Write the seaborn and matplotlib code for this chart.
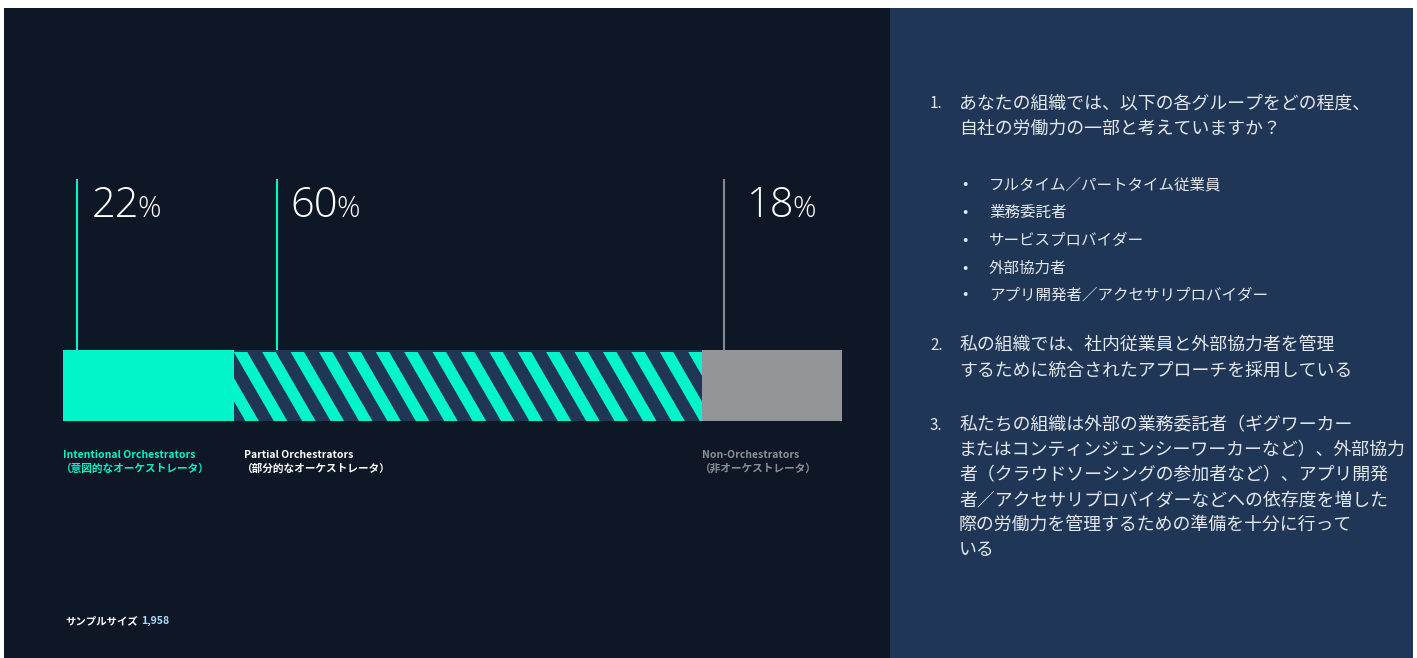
import numpy as np
import pandas as pd
import matplotlib
matplotlib.use("Agg")
import matplotlib.pyplot as plt
import matplotlib.transforms as mtransforms
from matplotlib.patches import Rectangle, Polygon
import seaborn as sns

# ---------------- data ----------------
segments = ["Intentional Orchestrators", "Partial Orchestrators", "Non-Orchestrators"]
segments_ja = ["（意図的なオーケストレータ）", "（部分的なオーケストレータ）", "（非オーケストレータ）"]
shares = [22, 60, 18]
sample_label = "サンプルサイズ"
sample_size = "1,958"

q1_lines = ["あなたの組織では、以下の各グループをどの程度、", "自社の労働力の一部と考えていますか？"]
q1_bullets = ["フルタイム／パートタイム従業員", "業務委託者", "サービスプロバイダー", "外部協力者",
              "アプリ開発者／アクセサリプロバイダー"]
q2_lines = ["私の組織では、社内従業員と外部協力者を管理", "するために統合されたアプローチを採用している"]
q3_lines = ["私たちの組織は外部の業務委託者（ギグワーカー",
            "またはコンティンジェンシーワーカーなど）、外部協力",
            "者（クラウドソーシングの参加者など）、アプリ開発",
            "者／アクセサリプロバイダーなどへの依存度を増した",
            "際の労働力を管理するための準備を十分に行って",
            "いる"]

# ---------------- style ----------------
DARK = "#0d1725"
NAVY = "#1f3656"
TEAL = "#00f5c8"
GRAY = "#939598"
GRAY_LINE = "#85898e"
LABEL_GRAY = "#8c9096"
TEXT_LIGHT = "#e4e8ee"
SAMPLE_BLUE = "#a9dcf7"

sns.set_theme(style="dark")
JP = ["Noto Sans CJK JP", "DejaVu Sans"]
plt.rcParams["font.family"] = JP

W, H, DPI = 1417, 658, 100
fig = plt.figure(figsize=(W / DPI, H / DPI), dpi=DPI, facecolor="white")


def fx(x):
    return x / W


def fy(y):
    return 1 - y / H


# background panels
fig.add_artist(Rectangle((fx(4), 0), fx(890) - fx(4), fy(8), transform=fig.transFigure,
                         facecolor=DARK, edgecolor="none", zorder=0))
fig.add_artist(Rectangle((fx(890), 0), fx(1413) - fx(890), fy(8), transform=fig.transFigure,
                         facecolor=NAVY, edgecolor="none", zorder=0))

# ---------------- bar ----------------
BAR_L, BAR_R, BAR_T, BAR_B = 63, 842, 350, 421
ax = fig.add_axes([fx(BAR_L), fy(BAR_B), (BAR_R - BAR_L) / W, (BAR_B - BAR_T) / H])

df = pd.DataFrame({"segment": segments, "share": shares})
df["end"] = df["share"].cumsum()
df["start"] = df["end"] - df["share"]
df["row"] = "all"
palette = {segments[0]: TEAL, segments[1]: NAVY, segments[2]: GRAY}

sns.barplot(data=df, x="end", y="row", hue="segment", hue_order=segments[::-1],
            palette=palette, dodge=False, width=1.0, saturation=1, legend=False,
            errorbar=None, linewidth=0, ax=ax)
ax.set_xlim(0, 100)
ax.set_ylim(0.5, -0.5)
ax.axis("off")

patch_by_end = {}
for p in ax.patches:
    patch_by_end[round(p.get_width(), 6)] = p
first_patch = patch_by_end[round(float(df["end"][0]), 6)]
partial_patch = patch_by_end[round(float(df["end"][1]), 6)]
first_patch.set_zorder(3)

# diagonal stripes on the partial segment
sx = (BAR_R - BAR_L) / 100.0   # px per x unit
sy = float(BAR_B - BAR_T)      # px per y unit
period, band, slant, pad, phase = 28.4, 13.5, 40.0, 2.0, 11.0
p_start, p_end = float(df["start"][1]), float(df["end"][1])
x_px = phase - slant - 2 * period
while x_px < (p_end - p_start) * sx + period:
    x0 = p_start + x_px / sx
    ytop = -0.5 + pad / sy
    poly = Polygon([(x0, ytop), (x0 + band / sx, ytop), (x0 + (band + slant) / sx, 0.5),
                    (x0 + slant / sx, 0.5)], closed=True, facecolor=TEAL, edgecolor="none",
                   zorder=2)
    ax.add_patch(poly)
    poly.set_clip_path(partial_patch)
    x_px += period

# leader lines and big percentages
blend = mtransforms.blended_transform_factory(ax.transData, ax.transAxes)
LINE_TOP = 179
line_offsets_px = [14, 43, 22]
text_gaps_px = [15, 13, 23]
line_colors = [TEAL, TEAL, GRAY_LINE]
top_frac = 1 + (BAR_T - LINE_TOP) / sy
fig.canvas.draw()
renderer = fig.canvas.get_renderer()
BIG = ["Open Sans", "DejaVu Sans"]
for i in range(len(shares)):
    lx = float(df["start"][i]) + line_offsets_px[i] / sx
    ax.plot([lx, lx], [1, top_frac], transform=blend, color=line_colors[i], lw=1.5,
            clip_on=False, solid_capstyle="butt", zorder=4)
    lx_px = BAR_L + lx * sx
    t = fig.text(fx(lx_px + text_gaps_px[i]), fy(217), f"{shares[i]}", color="white",
                 fontsize=30, family=BIG, fontweight="light", va="baseline", ha="left")
    bb = t.get_window_extent(renderer=renderer)
    fig.text(bb.x1 / W - fx(2), fy(217), "%", color="white", fontsize=21,
             family=BIG, fontweight="light", va="baseline", ha="left")

# category labels
label_x_px = [63, 244, 702]
label_colors = [TEAL, "white", LABEL_GRAY]
for i in range(len(segments)):
    fig.text(fx(label_x_px[i]), fy(455), segments[i], color=label_colors[i], fontsize=7.5,
             fontweight="bold", va="center", ha="left", family=JP)
    fig.text(fx(label_x_px[i] - 2), fy(469), segments_ja[i], color=label_colors[i], fontsize=7.7,
             fontweight="bold", va="center", ha="left", family=JP)

# sample size
t = fig.text(fx(65), fy(621), sample_label, color="white", fontsize=7.5, fontweight="bold",
             va="center", ha="left", family=JP)
bb = t.get_window_extent(renderer=renderer)
fig.text(bb.x1 / W + fx(3), fy(621), sample_size, color=SAMPLE_BLUE, fontsize=7.6,
         fontweight="bold", va="center", ha="left", family=JP)

# ---------------- right panel ----------------
NUM_X, TXT_X, BUL_X, BUL_TXT_X = 930, 959, 962, 989
QFS, BFS = 12.9, 11.2


def qlines(num, lines, ys):
    fig.text(fx(NUM_X), fy(ys[0]), f"{num}.", color=TEXT_LIGHT, fontsize=QFS * 0.85,
             va="center", ha="left", family=JP)
    for ln, y in zip(lines, ys):
        fig.text(fx(TXT_X), fy(y), ln, color=TEXT_LIGHT, fontsize=QFS, va="center",
                 ha="left", family=JP)


qlines(1, q1_lines, [103, 129])
for b, y in zip(q1_bullets, [185, 212, 240, 268, 295]):
    fig.text(fx(BUL_X), fy(y), "•", color=TEXT_LIGHT, fontsize=BFS, va="center", ha="left",
             family=JP)
    fig.text(fx(BUL_TXT_X), fy(y), b, color=TEXT_LIGHT, fontsize=BFS, va="center", ha="left",
             family=JP)
qlines(2, q2_lines, [345, 371])
qlines(3, q3_lines, [425, 450, 475, 500, 525, 550])

fig.savefig("out.png", dpi=DPI, facecolor=fig.get_facecolor())
